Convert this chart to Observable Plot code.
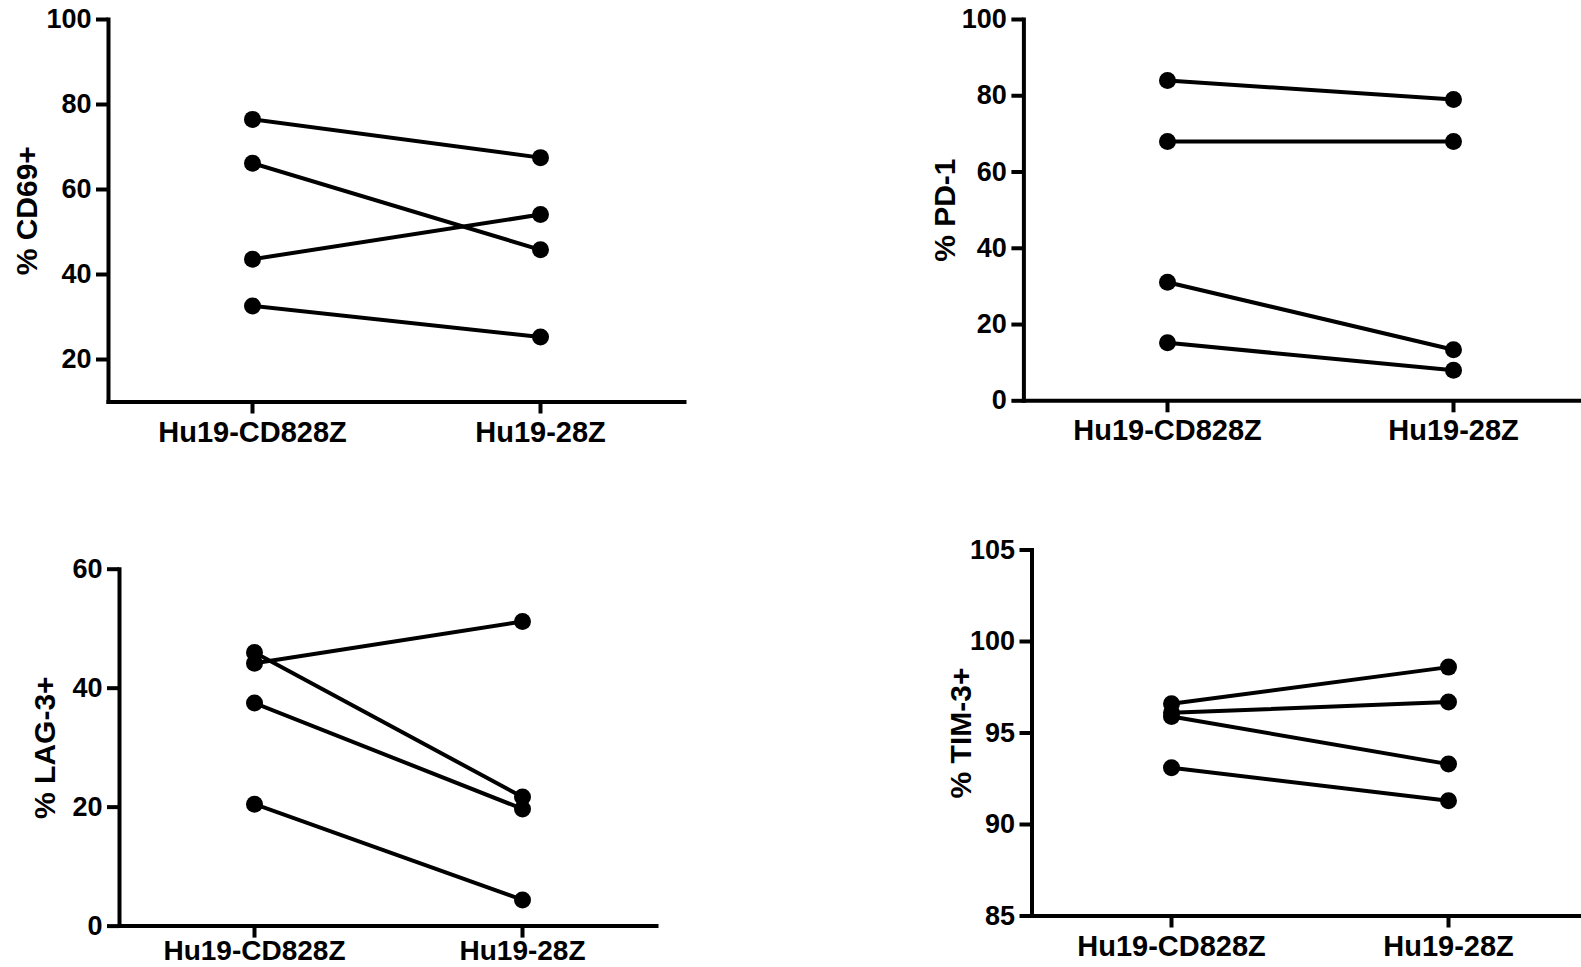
<!DOCTYPE html>
<html><head><meta charset="utf-8">
<script src="https://cdn.jsdelivr.net/npm/d3@7"></script>
<script src="https://cdn.jsdelivr.net/npm/@observablehq/plot@0.6"></script>
<style>
html,body{margin:0;padding:0;background:#fff;}
#wrap{position:relative;width:1581px;height:967px;overflow:hidden;background:#fff;}
.panel{position:absolute;}
.panel svg{max-width:none !important;font-family:"Liberation Sans",Arial,sans-serif;font-weight:bold;}
</style></head><body><div id="wrap"></div>
<script>
const groups = ["Hu19-CD828Z", "Hu19-28Z"];

const cd69_CD828Z = [76.5, 66.2, 43.6, 32.6];
const cd69_28Z    = [67.5, 45.8, 54.1, 25.3];
const cd69_ticks  = [20, 40, 60, 80, 100];

const pd1_CD828Z = [84.0, 68.0, 31.1, 15.2];
const pd1_28Z    = [79.0, 68.0, 13.4, 8.0];
const pd1_ticks  = [0, 20, 40, 60, 80, 100];

const lag3_CD828Z = [44.2, 46.0, 37.5, 20.5];
const lag3_28Z    = [51.2, 21.7, 19.7, 4.4];
const lag3_ticks  = [0, 20, 40, 60];

const tim3_CD828Z = [96.6, 96.1, 95.9, 93.1];
const tim3_28Z    = [98.6, 96.7, 93.3, 91.3];
const tim3_ticks  = [85, 90, 95, 100, 105];

function rows(a, b) {
  return a.flatMap((v, i) => [
    {donor: i, group: groups[0], value: v},
    {donor: i, group: groups[1], value: b[i]}
  ]);
}

const panels = [
  {label: "% CD69+", a: cd69_CD828Z, b: cd69_28Z, ticks: cd69_ticks, domain: [10, 100],
   left: 0, top: 0, width: 700, height: 460, mL: 108, mR: 16, mT: 19, mB: 58.5, labOff: 93, xPad: 7, xFont: 29},
  {label: "% PD-1", a: pd1_CD828Z, b: pd1_28Z, ticks: pd1_ticks, domain: [0, 100],
   left: 900, top: 0, width: 700, height: 460, mL: 123.4, mR: 4, mT: 19, mB: 59.7, labOff: 90, xPad: 7, xFont: 29},
  {label: "% LAG-3+", a: lag3_CD828Z, b: lag3_28Z, ticks: lag3_ticks, domain: [0, 60],
   left: 0, top: 500, width: 680, height: 467, mL: 119, mR: 24, mT: 68.7, mB: 41.4, labOff: 86, xPad: 2, xFont: 28},
  {label: "% TIM-3+", a: tim3_CD828Z, b: tim3_28Z, ticks: tim3_ticks, domain: [85, 105],
   left: 900, top: 500, width: 690, height: 467, mL: 131.5, mR: 3, mT: 49.5, mB: 51.5, labOff: 82.5, xPad: 7, xFont: 29}
];

const wrap = document.getElementById("wrap");
for (const p of panels) {
  const data = rows(p.a, p.b);
  const chart = Plot.plot({
    width: p.width, height: p.height,
    marginLeft: p.mL, marginRight: p.mR, marginTop: p.mT, marginBottom: p.mB,
    x: {type: "point", domain: groups, padding: 0.5},
    y: {domain: p.domain},
    style: {background: "white", color: "black", fontFamily: "'Liberation Sans', Arial, sans-serif", overflow: "visible", maxWidth: "none"},
    marks: [
      Plot.axisY({ticks: p.ticks, tickSize: 12, tickPadding: 5, strokeWidth: 4, fontSize: 27, fontWeight: "bold", label: null}),
      Plot.axisX({tickSize: 12, tickPadding: p.xPad, strokeWidth: 4, fontSize: p.xFont, fontWeight: "bold", label: null}),
      Plot.frame({anchor: "left", strokeWidth: 4}),
      Plot.frame({anchor: "bottom", strokeWidth: 4}),
      Plot.line(data, {x: "group", y: "value", z: "donor", stroke: "black", strokeWidth: 4}),
      Plot.dot(data, {x: "group", y: "value", r: 8.5, fill: "black"}),
      Plot.text([p.label], {text: d => d, frameAnchor: "left", dx: -p.labOff, rotate: -90,
        textAnchor: "middle", lineAnchor: "top", fontSize: 30, fontWeight: "bold", fill: "black"})
    ]
  });
  const div = document.createElement("div");
  div.className = "panel";
  div.style.left = p.left + "px";
  div.style.top = p.top + "px";
  div.style.width = p.width + "px";
  div.appendChild(chart);
  wrap.appendChild(div);
}
</script>
</body></html>
